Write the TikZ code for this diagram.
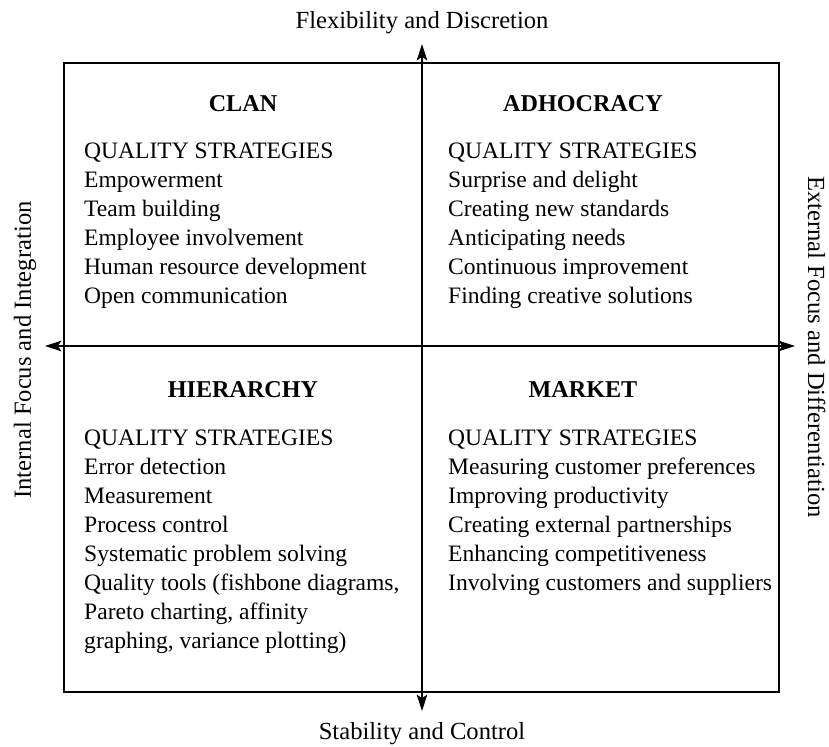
\documentclass[tikz,border=0pt]{standalone}
\usepackage{fontspec}
\setmainfont{Liberation Serif}
\usetikzlibrary{arrows.meta,positioning}
\tikzset{
  axis/.style={{Stealth[length=14pt,width=9pt,inset=3pt]}-{Stealth[length=14pt,width=9pt,inset=3pt]},line width=0.9pt},
  frame/.style={line width=0.9pt},
  quadtitle/.style={anchor=base,inner sep=0pt,font=\fontsize{20.6}{24}\selectfont\bfseries},
  item/.style={anchor=base west,inner sep=0pt,font=\fontsize{20.1}{24}\selectfont},
  axislabel/.style={anchor=base,inner sep=0pt,font=\fontsize{21}{24}\selectfont}
}
\begin{document}
\begin{tikzpicture}[x=0.03cm,y=-0.03cm]
  \useasboundingbox (0,0) rectangle (829,746);
  % frame and axes
  \draw[frame] (64,63) rectangle (779,692);
  \coordinate (north) at (422,44);
  \coordinate (south) at (422,711);
  \coordinate (west) at (45,346);
  \coordinate (east) at (795,346);
  \draw[axis] (south) -- (north);
  \draw[axis] (west) -- (east);
  % axis labels
  \node[axislabel] (flex) at (422,28) {Flexibility and Discretion};
  \node[axislabel] (stab) at (422,739) {Stability and Control};
  \node[axislabel,rotate=90] (internal) at (31,350) {Internal Focus and Integration};
  \node[axislabel,rotate=-90] (external) at (808,347) {External Focus and Differentiation};
  % quadrant titles
  \node[quadtitle] (clan) at (243,111) {CLAN};
  \node[quadtitle] (adhoc) at (583,111) {ADHOCRACY};
  \node[quadtitle] (hier) at (243,397) {HIERARCHY};
  \node[quadtitle] (market) at (583,397) {MARKET};
  % strategy lists
  \foreach \txt [count=\i from 0] in {QUALITY STRATEGIES, Empowerment, Team building,
      Employee involvement, Human resource development, Open communication}
    \node[item] (clan\i) at (84,158+29*\i) {\txt};
  \foreach \txt [count=\i from 0] in {QUALITY STRATEGIES, Surprise and delight,
      Creating new standards, Anticipating needs, Continuous improvement,
      Finding creative solutions}
    \node[item] (adhoc\i) at (448,158+29*\i) {\txt};
  \foreach \txt [count=\i from 0] in {QUALITY STRATEGIES, Error detection, Measurement,
      Process control, Systematic problem solving, {Quality tools (fishbone diagrams,},
      {Pareto charting, affinity}, {graphing, variance plotting)}}
    \node[item] (hier\i) at (84,445+29*\i) {\txt};
  \foreach \txt [count=\i from 0] in {QUALITY STRATEGIES, Measuring customer preferences,
      Improving productivity, Creating external partnerships,
      Enhancing competitiveness, Involving customers and suppliers}
    \node[item] (market\i) at (448,445+29*\i) {\txt};
\end{tikzpicture}
\end{document}
